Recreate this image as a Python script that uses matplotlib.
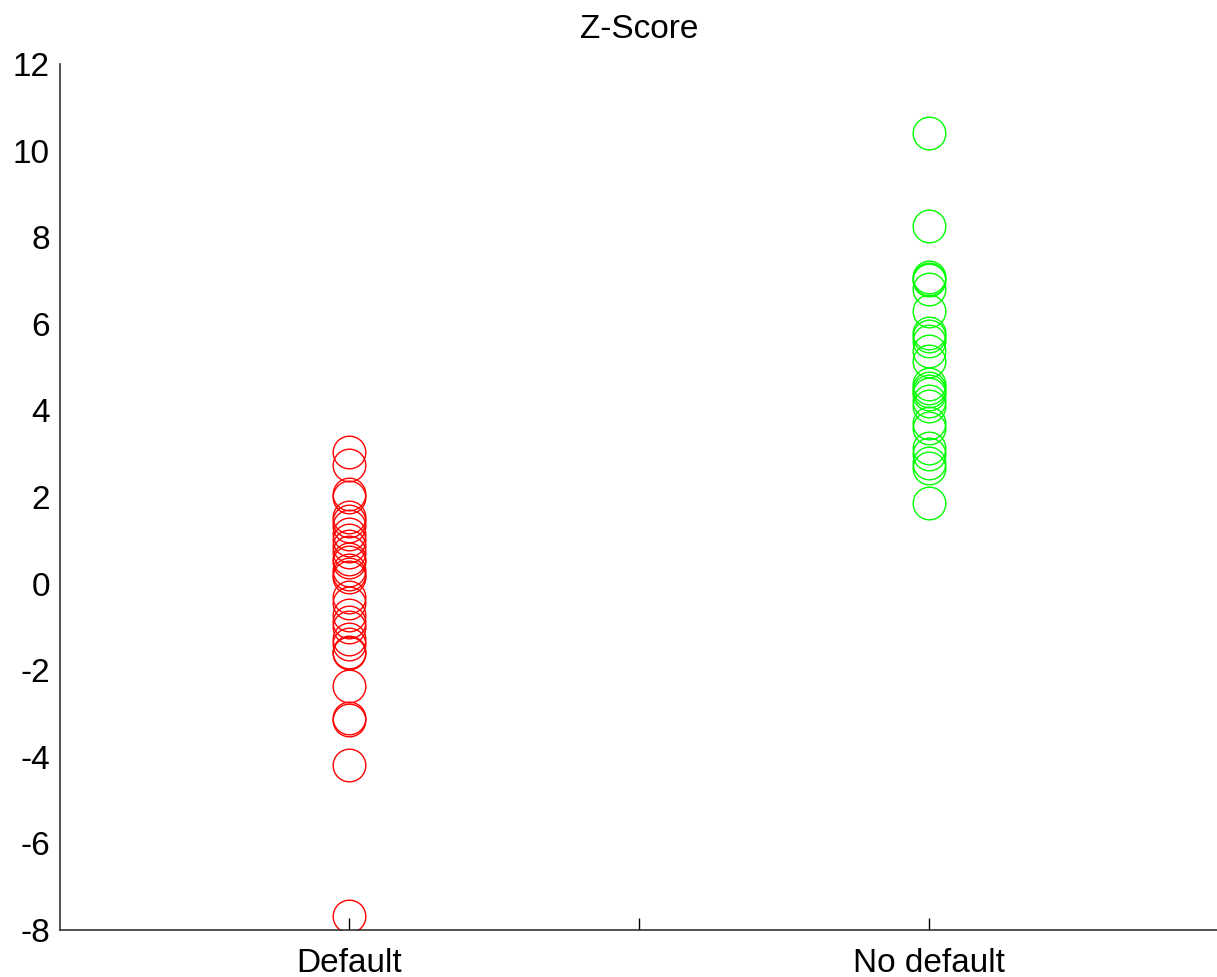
import matplotlib.pyplot as plt

# z-scores for the two groups
default_z = [3.04, 2.73, 2.08, 2.0, 1.55, 1.45, 1.33, 1.15, 1.0, 0.88, 0.72, 0.58, 0.5,
             0.32, 0.22, 0.15, -0.3, -0.45, -0.72, -0.88, -1.0, -1.28, -1.4, -1.58, -1.6,
             -2.36, -3.1, -3.15, -4.19, -7.68]
no_default_z = [10.41, 8.27, 7.09, 7.04, 7.01, 6.8, 6.3, 5.79, 5.72, 5.6, 5.37, 5.14,
                4.6, 4.52, 4.45, 4.37, 4.22, 4.1, 3.72, 3.6, 3.14, 2.99, 2.79, 2.68, 1.87]

groups = ['Default', '', 'No default']
group_pos = [1, 2, 3]
yticks = [-8, -6, -4, -2, 0, 2, 4, 6, 8, 10, 12]

plt.rcParams['font.family'] = ['Liberation Sans', 'DejaVu Sans']

fig = plt.figure(figsize=(12.17, 9.77), dpi=100)
ax = fig.add_axes([0.049, 0.048, 0.952, 0.8865])

ax.plot([1] * len(default_z), default_z, 'o', markersize=23.5, markerfacecolor='none',
        markeredgecolor=(1, 0, 0), markeredgewidth=1.0)
ax.plot([3] * len(no_default_z), no_default_z, 'o', markersize=23.5, markerfacecolor='none',
        markeredgecolor=(0, 1, 0), markeredgewidth=1.0)

ax.set_xlim(0, 4)
ax.set_ylim(-8, 12)
ax.set_xticks(group_pos)
ax.set_xticklabels(groups, fontsize=24)
ax.set_yticks(yticks)
ax.set_yticklabels([str(t) for t in yticks], fontsize=24)
ax.tick_params(axis='x', direction='in', length=9, width=1, pad=13)
ax.tick_params(axis='y', direction='in', length=0, pad=7)

for side in ['top', 'right']:
    ax.spines[side].set_visible(False)
for side in ['left', 'bottom']:
    ax.spines[side].set_color('#333333')
    ax.spines[side].set_linewidth(1.2)

ax.set_title('Z-Score', fontsize=24, pad=19)

fig.savefig('out.png', dpi=100)
